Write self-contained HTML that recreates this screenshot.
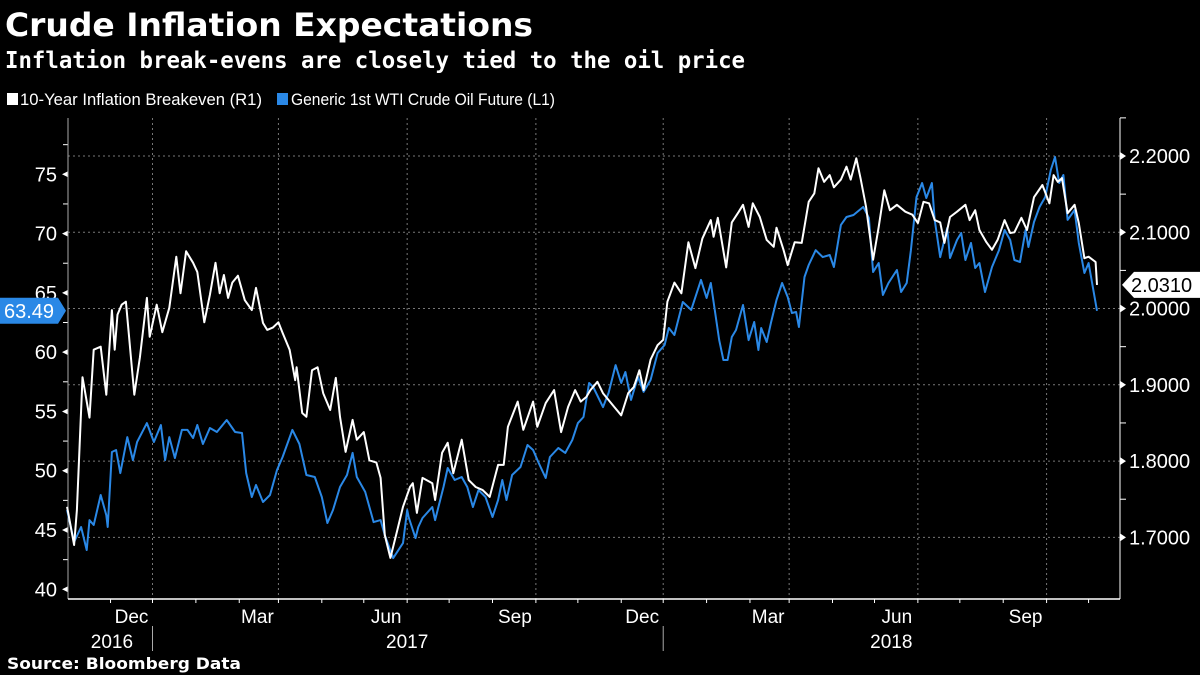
<!DOCTYPE html>
<html><head><meta charset="utf-8"><style>
html,body{margin:0;padding:0;background:#000;}
svg{display:block;font-family:"Liberation Sans","DejaVu Sans",sans-serif;}
</style></head><body>
<svg id="chart" width="1200" height="675" viewBox="0 0 1200 675" xmlns="http://www.w3.org/2000/svg">
<rect x="0" y="0" width="1200" height="675" fill="#000"/>
<text x="5" y="36" fill="#fff" font-family="DejaVu Sans, sans-serif" font-weight="bold" font-size="32" textLength="528" lengthAdjust="spacingAndGlyphs">Crude Inflation Expectations</text>
<text x="5" y="68" fill="#fff" font-family="DejaVu Sans Mono, monospace" font-weight="bold" font-size="23" textLength="740" lengthAdjust="spacingAndGlyphs">Inflation break-evens are closely tied to the oil price</text>
<g>
<rect x="7" y="93" width="11" height="12" fill="#fff"/>
<text x="20" y="105" fill="#fff" font-size="17" textLength="242" lengthAdjust="spacingAndGlyphs">10-Year Inflation Breakeven (R1)</text>
<rect x="277" y="93" width="11" height="12" fill="#2a88e6"/>
<text x="291" y="105" fill="#fff" font-size="17" textLength="264" lengthAdjust="spacingAndGlyphs">Generic 1st WTI Crude Oil Future (L1)</text>
</g>
<g id="grid"></g>
<g id="axes"></g>
<g id="series"></g>
<g id="tags"></g>
<text x="7" y="669" fill="#fff" font-family="DejaVu Sans, sans-serif" font-weight="bold" font-size="16" textLength="234" lengthAdjust="spacingAndGlyphs">Source: Bloomberg Data</text>
</svg>
<script>
// days since 2016-10-01
const beDays = [0,5,7,11,16,19,24,28,32,34,36,39,42,48,52,57,59,64,68,73,78,81,85,90,93,98,102,106,109,112,115,118,122,127,132,135,140,143,147,151,154,159,163,164,168,171,175,179,183,188,192,195,199,204,207,212,216,221,224,227,231,236,240,245,247,250,254,261,263,268,272,276,282,287,292,297,302,308,312,315,322,326,333,336,342,348,353,358,363,367,371,374,379,383,391,396,401,405,409,412,417,422,426,429,434,439,444,449,454,460,462,465,471,475,480,483,487,490,495,500,505,507,512,515,520,525,530,534,537,541,545,548,553,557,560,564,567,571,576,580,584,588,593,599,604,608,612,616,620,624,627,631,636,642,645,649,652,657,661,665,670,674,677,682,686,691,697,702,705,708,711,715,720,723,727,730,735,736];
const beValues = [1.740,1.690,1.736,1.910,1.857,1.946,1.950,1.887,1.998,1.946,1.992,2.005,2.009,1.887,1.936,2.014,1.963,2.005,1.969,2.001,2.068,2.020,2.075,2.060,2.048,1.982,2.018,2.060,2.020,2.044,2.014,2.034,2.043,2.011,1.998,2.027,1.981,1.972,1.975,1.982,1.968,1.946,1.906,1.923,1.863,1.858,1.919,1.923,1.889,1.867,1.909,1.858,1.812,1.854,1.828,1.838,1.801,1.798,1.778,1.703,1.673,1.710,1.740,1.766,1.771,1.732,1.778,1.771,1.749,1.811,1.824,1.784,1.828,1.775,1.766,1.762,1.753,1.795,1.795,1.845,1.878,1.841,1.878,1.845,1.876,1.893,1.838,1.871,1.893,1.878,1.884,1.893,1.904,1.889,1.871,1.860,1.889,1.897,1.919,1.893,1.933,1.952,1.959,2.009,2.034,2.020,2.087,2.053,2.092,2.116,2.094,2.119,2.054,2.113,2.127,2.136,2.107,2.138,2.120,2.090,2.081,2.106,2.077,2.057,2.087,2.086,2.140,2.151,2.184,2.166,2.175,2.159,2.169,2.186,2.169,2.197,2.171,2.133,2.064,2.107,2.155,2.129,2.136,2.127,2.123,2.112,2.140,2.138,2.116,2.113,2.086,2.120,2.127,2.136,2.116,2.129,2.103,2.087,2.077,2.090,2.116,2.099,2.100,2.119,2.103,2.146,2.162,2.138,2.175,2.166,2.171,2.125,2.136,2.112,2.066,2.068,2.061,2.031];
const oilDays = [0,5,10,14,16,19,24,28,29,32,35,38,43,47,50,57,62,67,70,73,77,82,86,90,93,97,102,107,114,120,125,128,132,135,140,145,150,154,161,166,171,177,182,186,190,195,200,204,207,213,219,224,227,233,240,243,244,249,251,254,261,263,269,272,277,282,286,290,294,299,304,308,311,314,318,324,329,333,337,342,345,351,356,361,365,369,373,376,383,387,392,396,399,403,408,412,417,422,427,430,434,440,446,453,457,460,466,469,472,475,478,483,487,491,494,496,500,503,507,511,515,518,521,523,527,530,535,540,545,548,553,557,562,569,573,576,580,583,587,593,596,600,603,607,611,614,618,620,624,629,631,636,639,642,646,649,652,656,661,666,670,674,677,681,685,687,691,695,699,703,706,709,712,715,720,723,727,730,736];
const oilValues = [46.69,43.99,45.25,43.31,45.84,45.42,47.95,46.26,45.25,51.58,51.75,49.80,52.84,50.90,52.42,54.02,52.42,53.86,50.90,52.84,51.07,53.44,53.44,52.76,53.86,52.25,53.60,53.27,54.28,53.27,53.18,49.80,47.78,48.80,47.36,47.95,50.06,51.16,53.44,52.25,49.64,49.47,47.78,45.59,46.69,48.63,49.64,51.50,49.47,48.21,45.67,45.84,44.57,42.63,43.90,46.69,46.10,44.32,45.25,46.01,46.94,45.84,48.63,50.23,49.22,49.47,48.63,46.94,48.37,47.78,46.10,47.53,49.22,47.53,49.64,50.31,52.17,51.75,50.65,49.39,51.16,51.92,51.50,52.59,54.02,54.53,57.40,57.06,55.37,56.56,58.91,57.40,58.33,55.97,57.91,56.65,57.66,59.93,60.60,62.04,61.45,64.23,63.56,66.09,64.57,65.83,61.02,59.34,59.34,61.28,61.87,63.98,61.02,62.54,60.18,62.04,60.86,62.46,64.40,65.83,64.65,63.30,63.39,62.12,66.34,67.35,68.60,68.02,68.19,67.18,70.73,71.40,71.57,72.25,71.32,66.76,67.52,64.82,65.83,66.93,65.07,65.83,68.60,73.08,74.27,73.00,74.27,71.15,68.02,70.47,67.94,69.46,70.05,67.77,69.21,67.10,67.52,65.07,67.18,68.60,70.30,69.46,67.77,67.60,70.30,68.87,70.98,72.25,73.08,75.36,76.46,74.27,74.94,71.15,71.99,69.21,66.68,67.52,63.49];
const leftTicks = [40,45,50,55,60,65,70,75];
const rightTicks = [1.7,1.8,1.9,2.0,2.1,2.2];
const rightTickLabels = ["1.7000","1.8000","1.9000","2.0000","2.1000","2.2000"];
const monthTickDays = [31,61,92,123,151,182,212,243,273,304,335,365,396,426,457,488,516,547,577,608,638,669,700,730];
const quarterDays = [61,151,243,335,426,516,608,700];
const quarterLabels = ["Dec","Mar","Jun","Sep","Dec","Mar","Jun","Sep"];
const yearLabels = ["2016","2017","2018"];
const yearLabelDays = [32,243,589];
const yearSepDays = [61,426];

const NS="http://www.w3.org/2000/svg";
const X0=68, X1=1120, YT=118, YB=599;
function xs(d){return 152.5+(d-61)*1.3992;}
function yl(v){return 174.3+(75-v)*11.857;}
function yr(v){return 156+(2.2-v)*762.7;}
function mk(tag,attrs,parent,txt){const e=document.createElementNS(NS,tag);for(const k in attrs)e.setAttribute(k,attrs[k]);if(txt!==undefined)e.textContent=txt;parent.appendChild(e);return e;}
const grid=document.getElementById('grid'),axes=document.getElementById('axes'),series=document.getElementById('series'),tags=document.getElementById('tags');

rightTicks.forEach((v,i)=>{
  const l=mk('line',{x1:X0,x2:X1,y1:yr(v),y2:yr(v),stroke:'#777','stroke-width':1,'stroke-dasharray':'2,3'},grid);
  
  
  const t=mk('text',{x:1129,y:yr(v)+7,fill:'#fff','font-size':20},axes,rightTickLabels[i]);
  
  
  mk('path',{d:`M${X1} ${yr(v)-4}L${X1+6} ${yr(v)}L${X1} ${yr(v)+4}Z`,fill:'#fff'},axes);
  mk('line',{x1:X1,x2:X1+6,y1:yr(v+0.05),y2:yr(v+0.05),stroke:'#fff'},axes);
});
quarterDays.forEach((d,i)=>{
  const l=mk('line',{x1:xs(d),x2:xs(d),y1:YT,y2:YB,stroke:'#777','stroke-width':1,'stroke-dasharray':'2,3'},grid);
  
  
  const t=mk('text',{x:xs(d)-21,y:623,fill:'#fff','font-size':19,'text-anchor':'middle'},axes,quarterLabels[i]);
  
  
});
monthTickDays.forEach(d=>{mk('line',{x1:xs(d),x2:xs(d),y1:YB,y2:YB+4,stroke:'#fff'},axes);});
yearLabels.forEach((y,i)=>{
  const t=mk('text',{x:xs(yearLabelDays[i]),y:648,fill:'#fff','font-size':19,'text-anchor':'middle'},axes,y);
  
  
});
yearSepDays.forEach(d=>{mk('line',{x1:xs(d),x2:xs(d),y1:626,y2:651,stroke:'#aaa'},axes);});
leftTicks.forEach(v=>{
  const t=mk('text',{x:57,y:yl(v)+7,fill:'#fff','font-size':20,'text-anchor':'end'},axes,String(v));
  
  
  mk('path',{d:`M${X0} ${yl(v)-3}L${X0-6} ${yl(v)}L${X0} ${yl(v)+3}Z`,fill:'#fff'},axes);
  mk('line',{x1:X0-5,x2:X0,y1:yl(v+2.5),y2:yl(v+2.5),stroke:'#fff'},axes);
});
mk('line',{x1:X0,x2:X0,y1:YT,y2:YB,stroke:'#aaa'},axes);
mk('line',{x1:X1,x2:X1,y1:YT,y2:YB,stroke:'#fff'},axes);
mk('line',{x1:X0,x2:X1,y1:YB,y2:YB,stroke:'#fff','stroke-width':1.5},axes);

const oilPath=mk('path',{d:oilDays.map((d,i)=>(i?'L':'M')+xs(d).toFixed(1)+' '+yl(oilValues[i]).toFixed(1)).join(''),fill:'none',stroke:'#2a88e6','stroke-width':2,'stroke-linejoin':'round'},series);


const bePath=mk('path',{d:beDays.map((d,i)=>(i?'L':'M')+xs(d).toFixed(1)+' '+yr(beValues[i]).toFixed(1)).join(''),fill:'none',stroke:'#fff','stroke-width':2,'stroke-linejoin':'round'},series);



const lo=oilValues[oilValues.length-1], ly=yl(lo);
const ot=mk('path',{d:`M0 ${ly-13}L58 ${ly-13}L66 ${ly}L58 ${ly+13}L0 ${ly+13}Z`,fill:'#2a88e6'},tags);


mk('text',{x:4,y:ly+7,fill:'#fff','font-size':20},tags,lo.toFixed(2));
const lb=beValues[beValues.length-1], by=yr(lb);
const bt=mk('path',{d:`M1122 ${by}L1134 ${by-13}L1200 ${by-13}L1200 ${by+13}L1134 ${by+13}Z`,fill:'#fff'},tags);


mk('text',{x:1131,y:by+7,fill:'#000','font-size':20},tags,lb.toFixed(4));
</script>
</body></html>
